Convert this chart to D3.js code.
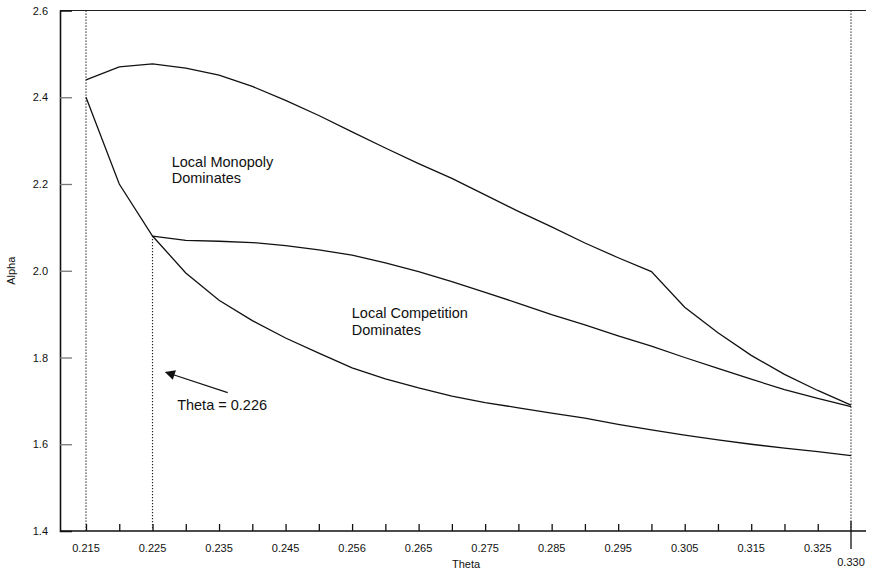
<!DOCTYPE html>
<html>
<head>
<meta charset="utf-8">
<script src="https://cdn.jsdelivr.net/npm/d3@7"></script>
<style>
	html, body { margin: 0; padding: 0; background: #fff; }
	svg { display: block; font-family: "Liberation Sans", Arial, sans-serif; }
	.curve { fill: none; stroke: #111; stroke-width: 1.3; }
	.guide { stroke: #222; stroke-width: 1.2; stroke-dasharray: 1.2 1.8; }
</style>
</head>
<body>
<svg id="chart" width="870" height="572"></svg>
<script>
(function(d3) {
	'use strict';

	/** data */
	var theta = [0.215, 0.220, 0.225, 0.230, 0.235, 0.240, 0.245, 0.250, 0.255, 0.260, 0.265, 0.270,
		0.275, 0.280, 0.285, 0.290, 0.295, 0.300, 0.305, 0.310, 0.315, 0.320, 0.325, 0.330];
	var upperAlpha = [2.440, 2.470, 2.477, 2.467, 2.451, 2.425, 2.393, 2.358, 2.320, 2.283, 2.247, 2.213,
		2.175, 2.137, 2.101, 2.064, 2.030, 1.998, 1.916, 1.857, 1.805, 1.761, 1.724, 1.690];
	var middleTheta = [0.225, 0.230, 0.235, 0.240, 0.245, 0.250, 0.255, 0.260, 0.265, 0.270, 0.275,
		0.280, 0.285, 0.290, 0.295, 0.300, 0.305, 0.310, 0.315, 0.320, 0.325, 0.330];
	var middleAlpha = [2.080, 2.070, 2.068, 2.065, 2.058, 2.048, 2.036, 2.018, 1.998, 1.975, 1.950,
		1.925, 1.899, 1.875, 1.850, 1.826, 1.800, 1.775, 1.750, 1.726, 1.706, 1.687];
	var lowerAlpha = [2.400, 2.200, 2.080, 1.995, 1.932, 1.885, 1.845, 1.810, 1.776, 1.751, 1.730, 1.711,
		1.696, 1.684, 1.672, 1.660, 1.646, 1.633, 1.621, 1.610, 1.600, 1.591, 1.583, 1.574];

	var xTicks = [0.215, 0.220, 0.225, 0.230, 0.235, 0.240, 0.245, 0.250, 0.255, 0.260, 0.265, 0.270,
		0.275, 0.280, 0.285, 0.290, 0.295, 0.300, 0.305, 0.310, 0.315, 0.320, 0.325];
	var xLabelValues = [0.215, 0.225, 0.235, 0.245, 0.255, 0.265, 0.275, 0.285, 0.295, 0.305, 0.315, 0.325];
	var xLabels = ['0.215', '0.225', '0.235', '0.245', '0.256', '0.265', '0.275', '0.285', '0.295', '0.305', '0.315', '0.325'];
	var yTicks = [1.4, 1.6, 1.8, 2.0, 2.2, 2.4, 2.6];
	var guideTheta = [0.215, 0.225, 0.330];
	var guideTop = [2.6, 2.08, 2.6];

	var svg = d3.select('#chart');
	var x = d3.scaleLinear().domain([0.215, 0.330]).range([86, 851]);
	var y = d3.scaleLinear().domain([1.4, 2.6]).range([531, 10.5]);
	var left = 60, right = 866;

	/** frame */
	svg.append('line').attr('x1', left).attr('x2', right).attr('y1', y(2.6)).attr('y2', y(2.6))
		.attr('stroke', '#222').attr('stroke-width', 1.2);

	/** y axis */
	var yAxis = svg.append('g').attr('transform', 'translate(' + left + ',0)')
		.call(d3.axisRight(y).tickValues(yTicks).tickSize(12).tickFormat(''));
	yAxis.select('.domain').attr('stroke', '#111').attr('stroke-width', 1.6);
	yAxis.selectAll('.tick line').attr('stroke', '#777').attr('stroke-width', 1.3)
		.filter(function(d) { return d === 1.4 || d === 2.6; }).remove();
	svg.append('g').selectAll('text').data(yTicks).enter().append('text')
		.attr('x', 48).attr('y', function(d) { return y(d) + 4; })
		.attr('text-anchor', 'end').attr('font-size', 11).attr('fill', '#111')
		.text(d3.format('.1f'));
	svg.append('text').attr('transform', 'translate(15,' + y(2.0) + ') rotate(-90)')
		.attr('text-anchor', 'middle').attr('font-size', 11).attr('fill', '#111').text('Alpha');

	/** x axis */
	svg.append('line').attr('x1', left).attr('x2', right).attr('y1', y(1.4)).attr('y2', y(1.4))
		.attr('stroke', '#111').attr('stroke-width', 1.6);
	var xAxis = svg.append('g').attr('transform', 'translate(0,' + y(1.4) + ')')
		.call(d3.axisTop(x).tickValues(xTicks).tickSize(7).tickFormat(''));
	xAxis.select('.domain').remove();
	xAxis.selectAll('.tick line').attr('stroke', '#111').attr('stroke-width', 1.3);
	svg.append('g').selectAll('text').data(xLabelValues).enter().append('text')
		.attr('x', function(d) { return x(d); }).attr('y', 552)
		.attr('text-anchor', 'middle').attr('font-size', 11).attr('fill', '#111')
		.text(function(d, i) { return xLabels[i]; });
	svg.append('line').attr('x1', x(0.330)).attr('x2', x(0.330)).attr('y1', y(1.4) - 10).attr('y2', y(1.4) + 18)
		.attr('stroke', '#111').attr('stroke-width', 1.3);
	svg.append('text').attr('x', x(0.330)).attr('y', 566).attr('text-anchor', 'middle')
		.attr('font-size', 11).attr('fill', '#111').text('0.330');
	svg.append('text').attr('x', 466).attr('y', 568).attr('text-anchor', 'middle')
		.attr('font-size', 11).attr('fill', '#111').text('Theta');

	/** dotted guides */
	svg.append('g').selectAll('line').data(guideTheta).enter().append('line')
		.attr('class', 'guide')
		.attr('x1', function(d) { return x(d); }).attr('x2', function(d) { return x(d); })
		.attr('y1', function(d, i) { return y(guideTop[i]); }).attr('y2', y(1.4));

	/** curves */
	var line = d3.line().x(function(d) { return x(d[0]); }).y(function(d) { return y(d[1]); });
	var series = [
		d3.zip(theta, upperAlpha),
		d3.zip(middleTheta, middleAlpha),
		d3.zip(theta, lowerAlpha)
	];
	svg.append('g').selectAll('path').data(series).enter().append('path')
		.attr('class', 'curve').attr('d', line);

	/** region labels */
	var addLabel = function(lines, tx, baseAlpha, gap) {
		var t = svg.append('text').attr('font-size', 14.5).attr('fill', '#111')
			.attr('x', x(tx)).attr('y', y(baseAlpha));
		lines.forEach(function(s, i) {
			t.append('tspan').attr('x', x(tx)).attr('dy', i === 0 ? 0 : gap).text(s);
		});
	};
	addLabel(['Local Monopoly', 'Dominates'], 0.22789, 2.240, 16);
	addLabel(['Local Competition', 'Dominates'], 0.25495, 1.891, 17);

	/** annotation arrow */
	svg.append('defs').append('marker').attr('id', 'head')
		.attr('viewBox', '0 0 10 10').attr('refX', 9).attr('refY', 5)
		.attr('markerWidth', 14).attr('markerHeight', 10).attr('markerUnits', 'userSpaceOnUse')
		.attr('orient', 'auto')
		.append('path').attr('d', 'M0,0L10,5L0,10Z').attr('fill', '#111');
	svg.append('line')
		.attr('x1', x(0.2363)).attr('y1', y(1.719)).attr('x2', x(0.2270)).attr('y2', y(1.766))
		.attr('stroke', '#111').attr('stroke-width', 1.1).attr('marker-end', 'url(#head)');
	svg.append('text').attr('x', x(0.2287)).attr('y', y(1.678)).attr('font-size', 14.5)
		.attr('fill', '#111').text('Theta = 0.226');
})(d3);
</script>
</body>
</html>
